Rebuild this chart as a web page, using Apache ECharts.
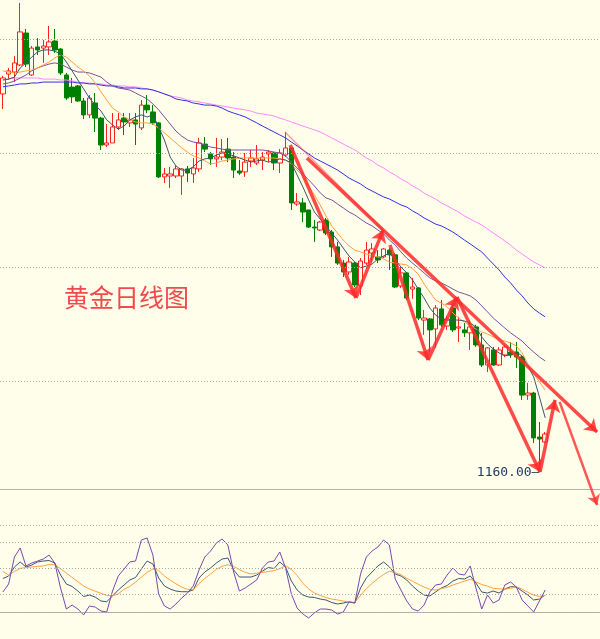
<!DOCTYPE html>
<html><head><meta charset="utf-8">
<script src="https://cdn.jsdelivr.net/npm/echarts@6/dist/echarts.min.js"></script>
<style>html,body{margin:0;padding:0;background:#fffeea;}#c{width:600px;height:639px;}</style>
</head><body><div id="c"></div>
<script>
const categories = Array.from({length:104},(_, i)=>'D'+(i+1));
const opens = [1325.9,1334.6,1335.5,1338.6,1352.6,1334.2,1346.5,1346.0,1346.5,1349.1,
1345.6,1334.2,1328.9,1329.4,1322.8,1316.7,1321.9,1315.3,1303.5,1304.4,
1311.4,1315.3,1313.2,1314.5,1311.0,1321.0,1318.0,1313.2,1289.5,1289.9,
1289.9,1289.9,1293.0,1290.8,1293.0,1303.9,1299.6,1297.4,1298.2,1301.7,
1298.2,1292.1,1291.7,1296.5,1295.6,1296.9,1299.6,1300.0,1295.6,1299.1,
1302.2,1277.6,1278.1,1275.0,1267.5,1266.2,1270.6,1265.3,1258.8,1251.7,
1247.8,1251.7,1241.7,1251.7,1256.1,1254.4,1254.4,1257.4,1255.3,1241.7,
1247.4,1240.3,1240.8,1226.7,1227.2,1222.8,1231.6,1224.1,1232.0,1223.2,
1222.4,1221.1,1223.7,1215.8,1207.0,1213.6,1207.0,1211.4,1212.7,1212.7,
1210.5,1193.8,1194.7,1175.4,1173.2];
const closes = [1332.9,1336.0,1339.5,1353.1,1339.0,1346.0,1345.2,1346.9,1348.7,1345.2,
1335.1,1324.1,1324.6,1322.8,1316.7,1324.1,1315.3,1303.5,1304.4,1311.4,
1314.5,1313.6,1314.5,1312.7,1321.0,1318.9,1313.2,1289.5,1290.8,1290.8,
1293.0,1293.0,1291.2,1293.4,1304.4,1301.7,1297.4,1298.2,1300.4,1297.8,
1292.5,1291.2,1296.0,1297.8,1297.4,1298.2,1300.4,1295.6,1300.0,1302.2,
1278.1,1278.5,1274.1,1267.5,1267.1,1269.7,1264.9,1258.8,1251.7,1247.8,
1252.2,1242.1,1252.6,1257.4,1257.9,1253.1,1257.9,1255.3,1241.2,1247.4,
1236.4,1241.2,1227.6,1227.6,1222.4,1232.0,1224.6,1227.2,1222.4,1223.7,
1221.1,1223.7,1215.8,1207.0,1214.5,1207.0,1213.6,1214.9,1211.4,1210.5,
1193.8,1194.7,1175.0,1174.5,1176.7];
const lows = [1319.3,1332.0,1331.1,1338.1,1337.7,1333.8,1343.0,1339.5,1343.0,1343.9,
1334.2,1323.2,1321.9,1322.4,1314.9,1315.3,1309.2,1301.3,1302.6,1304.4,
1310.1,1307.9,1311.4,1303.5,1310.1,1317.5,1312.3,1289.0,1286.8,1284.6,
1289.0,1281.6,1287.3,1286.8,1291.7,1300.4,1294.7,1293.9,1296.9,1296.0,
1289.0,1290.3,1289.5,1293.9,1294.7,1292.5,1296.0,1292.5,1291.2,1298.2,
1275.0,1276.8,1269.7,1267.1,1261.0,1265.8,1264.0,1254.4,1250.9,1245.6,
1246.5,1241.2,1237.7,1250.9,1252.2,1251.7,1253.9,1248.7,1240.8,1240.8,
1235.5,1236.0,1226.7,1220.2,1212.7,1214.5,1223.7,1222.4,1221.5,1217.1,
1219.3,1213.6,1214.9,1206.1,1203.9,1206.6,1206.6,1210.5,1210.1,1205.7,
1191.7,1191.7,1172.8,1160.0,1172.8];
const highs = [1333.8,1337.3,1342.5,1365.8,1354.4,1346.9,1350.4,1349.6,1355.7,1354.4,
1346.0,1335.1,1332.9,1329.8,1324.1,1325.4,1326.3,1315.8,1312.7,1317.5,
1317.5,1317.5,1317.5,1317.5,1323.2,1325.4,1321.0,1313.6,1293.4,1293.9,
1294.7,1293.4,1294.3,1297.8,1306.6,1307.0,1300.4,1306.6,1306.1,1306.6,
1300.4,1296.9,1300.0,1301.3,1303.5,1300.4,1301.3,1300.4,1301.7,1309.2,
1302.2,1282.4,1280.3,1275.0,1270.6,1270.2,1271.5,1266.2,1261.0,1253.1,
1254.4,1252.2,1253.9,1261.0,1260.5,1257.4,1258.3,1258.3,1256.1,1250.0,
1247.8,1245.2,1241.2,1231.1,1227.6,1233.3,1235.5,1228.5,1233.3,1228.1,
1225.4,1226.7,1224.6,1221.1,1214.9,1214.9,1214.9,1215.8,1217.1,1217.1,
1211.4,1199.1,1195.2,1182.0,1177.6];
const ma5 = [1332.0,1332.4,1333.3,1337.3,1339.5,1342.1,1344.3,1345.2,1345.2,1344.7,
1343.4,1339.9,1336.0,1332.0,1328.1,1324.1,1321.0,1318.4,1314.5,1312.3,
1310.5,1311.8,1314.5,1315.8,1316.7,1315.8,1316.7,1311.4,1305.7,1298.2,
1294.3,1292.5,1292.5,1293.9,1296.5,1297.4,1297.8,1299.1,1300.0,1299.6,
1298.7,1297.8,1296.9,1296.0,1296.5,1296.9,1296.0,1296.5,1297.4,1296.9,
1295.6,1290.3,1285.1,1279.4,1274.1,1271.0,1268.0,1264.9,1261.8,1258.3,
1254.8,1252.2,1249.6,1250.4,1251.3,1253.5,1254.8,1256.1,1253.1,1250.0,
1247.4,1244.3,1240.3,1236.4,1232.0,1228.9,1227.2,1226.7,1226.7,1226.7,
1226.3,1225.4,1223.7,1219.3,1216.2,1214.0,1212.3,1211.0,1211.4,1212.7,
1211.0,1206.6,1201.8,1193.0,1183.8];
const ma10 = [1336.0,1335.5,1335.1,1335.5,1336.0,1336.4,1337.3,1338.6,1339.9,1341.7,
1343.0,1342.1,1339.9,1337.7,1336.0,1333.8,1330.7,1326.8,1323.2,1319.7,
1318.0,1315.8,1314.5,1313.6,1313.2,1313.2,1312.7,1311.0,1308.8,1306.6,
1304.4,1302.2,1300.4,1298.7,1297.8,1296.5,1295.2,1295.6,1296.5,1296.9,
1297.4,1297.8,1297.8,1297.8,1297.8,1297.8,1297.8,1297.8,1297.4,1296.9,
1295.2,1292.5,1289.9,1285.5,1281.6,1277.2,1272.4,1268.0,1264.9,1261.8,
1259.2,1257.4,1256.6,1255.7,1254.8,1254.4,1253.5,1252.2,1251.7,1251.3,
1250.9,1249.1,1246.9,1242.5,1239.0,1235.5,1234.2,1232.5,1229.8,1227.6,
1225.9,1224.1,1222.8,1221.5,1220.6,1219.3,1218.4,1217.5,1216.7,1215.3,
1212.3,1207.5,1203.1,1199.6,1196.0];
const ma20 = [1330.3,1330.7,1331.6,1332.9,1334.2,1336.0,1337.3,1338.2,1339.0,1339.5,
1339.0,1337.7,1336.4,1335.5,1335.5,1335.1,1334.2,1333.3,1331.1,1329.4,
1328.5,1328.1,1327.6,1326.3,1325.0,1323.7,1321.5,1318.9,1315.8,1312.7,
1309.6,1307.4,1305.7,1304.8,1304.4,1303.5,1302.6,1302.2,1301.7,1301.3,
1301.3,1301.3,1301.3,1301.3,1301.3,1301.3,1300.9,1300.4,1300.0,1298.7,
1296.0,1293.4,1290.8,1288.2,1285.5,1282.5,1280.3,1279.4,1277.6,1275.9,
1274.1,1272.8,1271.0,1269.3,1268.0,1266.2,1264.5,1261.8,1259.6,1256.6,
1253.9,1251.7,1249.6,1247.4,1245.2,1243.9,1243.0,1241.7,1240.3,1239.0,
1238.2,1237.3,1235.5,1232.9,1230.3,1227.6,1225.4,1223.2,1221.1,1219.3,
1217.5,1214.9,1212.7,1210.5,1208.8];
const ma60 = [1329.0,1329.4,1329.8,1330.3,1330.3,1330.7,1330.7,1331.1,1331.1,1331.1,
1331.1,1331.1,1331.1,1330.7,1330.7,1330.3,1330.3,1329.8,1329.4,1329.4,
1329.0,1328.5,1328.5,1328.5,1328.1,1328.1,1327.6,1326.8,1325.9,1325.0,
1323.7,1323.2,1322.8,1321.9,1321.5,1321.0,1321.0,1320.6,1319.7,1318.4,
1317.5,1316.7,1315.8,1314.5,1313.2,1311.8,1310.5,1309.2,1307.9,1306.6,
1304.8,1303.1,1301.3,1299.6,1297.8,1296.5,1295.2,1293.9,1292.5,1290.8,
1289.0,1287.7,1286.4,1284.6,1283.3,1282.0,1280.7,1279.8,1278.5,1277.2,
1276.3,1274.6,1273.2,1271.5,1270.2,1268.8,1268.0,1266.7,1265.3,1263.6,
1261.8,1260.1,1258.3,1256.6,1253.9,1251.3,1248.7,1245.6,1243.0,1239.9,
1237.3,1234.2,1231.6,1229.8,1228.1];
const ma120 = [1332.0,1332.4,1332.9,1332.9,1332.9,1332.9,1332.9,1332.4,1332.4,1332.4,
1332.0,1332.0,1331.6,1331.1,1330.7,1330.7,1330.3,1330.3,1329.8,1329.8,
1329.4,1329.4,1329.0,1329.0,1328.5,1328.1,1327.6,1326.8,1325.9,1325.0,
1324.6,1324.1,1323.2,1322.8,1322.4,1321.9,1321.5,1321.0,1320.6,1320.2,
1319.7,1319.3,1318.9,1318.4,1317.5,1317.1,1316.7,1316.2,1315.3,1314.5,
1313.6,1312.7,1311.8,1311.0,1310.1,1309.2,1307.9,1306.6,1305.3,1303.9,
1302.6,1301.3,1299.6,1297.8,1296.5,1294.7,1293.4,1291.7,1290.3,1288.6,
1287.3,1285.5,1284.2,1282.4,1281.1,1279.8,1278.1,1276.8,1275.4,1274.1,
1272.4,1271.0,1269.7,1268.4,1266.7,1264.9,1263.2,1261.4,1259.6,1257.4,
1255.7,1253.9,1252.2,1250.9,1249.6];
const kLine = [38.5,41.4,51.7,57.5,51.7,54.0,57.5,58.6,59.2,56.3,
42.5,32.2,29.3,24.1,17.8,19.5,17.2,12.6,11.8,18.4,
25.3,31.0,36.8,39.7,49.4,58.6,55.2,39.1,29.9,26.4,
24.1,23.3,23.3,25.3,39.1,46.0,50.6,56.3,60.9,62.1,
48.3,40.2,40.2,40.2,42.5,47.1,51.1,50.0,57.5,51.7,
35.6,25.3,19.5,17.2,16.7,14.9,13.8,10.9,9.2,10.3,
11.7,10.3,27.6,39.1,46.0,52.9,57.5,51.7,43.7,41.4,
36.8,29.9,24.1,19.5,18.4,23.0,27.6,30.5,35.6,38.5,
37.9,41.4,33.3,23.0,21.8,24.1,21.8,26.4,29.1,28.7,
24.1,19.5,13.8,14.9,19.5];
const dLine = [46.6,42.5,46.6,50.2,51.0,51.8,52.4,52.9,54.6,54.3,
49.7,44.8,39.7,34.8,29.9,26.4,23.9,21.5,19.1,18.4,
20.8,26.0,29.4,34.4,40.0,45.5,49.4,47.9,41.3,36.6,
32.4,28.6,26.0,25.6,32.6,38.7,43.6,49.1,52.6,54.3,
52.4,48.6,45.6,43.8,44.6,45.5,46.6,47.6,49.8,53.2,
48.9,42.0,33.0,26.4,21.8,19.0,16.7,14.9,13.8,12.6,
11.5,11.1,19.0,26.9,32.8,38.4,43.2,46.9,45.3,42.8,
38.8,35.3,31.9,28.7,26.1,25.1,26.9,28.5,31.0,33.2,
35.4,37.7,34.6,31.6,29.8,27.2,26.7,26.2,27.2,29.0,
26.4,22.6,19.4,17.9,19.0];
const jLine = [23.0,32.2,63.2,73.6,52.9,56.3,58.6,60.9,65.5,56.3,
27.6,3.4,8.0,3.4,-3.4,6.9,5.7,1.1,0,24.1,
41.4,49.4,57.5,58.6,82.8,85.1,65.5,20.7,6.9,3.4,
9.2,16.1,21.8,29.9,48.3,63.2,70.1,79.3,83.9,77.0,
46.0,24.1,27.6,32.2,36.8,50.6,57.5,58.6,69.0,50.6,
20.7,4.6,-2.3,-6.9,-1.1,3.4,3.4,2.3,-2.3,0,
11.5,10.3,43.7,63.2,70.1,74.7,82.8,77.0,37.9,25.3,
12.6,3.4,1.1,8.0,23.0,31.0,32.2,42.5,50.6,43.7,
42.5,52.9,27.6,3.4,19.5,10.3,13.8,31.0,34.5,28.7,
13.8,6.9,0,12.6,25.3];
const priceGridLevels = [1200,1250,1300,1350];
const kdjGridLevels = [100,80,50,20,0];
const lowLabel = {index:93, price:1160, text:'1160.00'};
const title = '黄金日线图';
// analyst annotation arrows: [[x index, price] start, [x index, price] end]
const thickArrows = [
  [[49.8,1303.5],[61.2,1236.4]],
  [[61.2,1236.4],[65.9,1266.2]],
  [[67.1,1259.6],[73.7,1209.2]],
  [[73.7,1209.2],[78.7,1236.8]],
  [[78.7,1236.8],[93.1,1160.1]],
  [[93.1,1160.1],[95.7,1191.7]],
  [[52.7,1297.8],[103.0,1177.6]]
];
const thinArrows = [
  [[96.5,1190.8],[103.0,1145.6]]
];
const paleLines = [
  [[48.9,1309.2],[65.9,1266.2]]
];

const BG = '#fffeea';
const chart = echarts.init(document.getElementById('c'));
const dotted = {type:[1,2], color:'#a8a8a0', width:1};
const option = {
  animation:false,
  backgroundColor:BG,
  grid:[{left:0,right:0,top:0,height:489},{left:0,right:0,top:489,height:137}],
  xAxis:[
    {type:'category',gridIndex:0,data:categories,show:false},
    {type:'category',gridIndex:1,data:categories,position:'bottom',axisLine:{show:true,lineStyle:{color:'#b4b4ac'}},axisTick:{show:false},axisLabel:{show:false},splitLine:{show:false}},
    {type:'value',gridIndex:0,min:-0.5,max:103.5,show:false},
    {type:'category',gridIndex:1,data:categories,position:'top',axisLine:{show:true,lineStyle:{color:'#b4b4ac'}},axisTick:{show:false},axisLabel:{show:false},splitLine:{show:false}}
  ],
  yAxis:[
    {type:'value',gridIndex:0,min:1152.6,max:1367.1,show:false,splitLine:{show:false}},
    {type:'value',gridIndex:1,min:-16.1,max:141.4,show:false,splitLine:{show:false}}
  ],
  graphic:[{type:'text',left:64,top:285,style:{text:title,fill:'#f04a4a',font:'25px "Noto Sans CJK SC"'}}],
  series:[
    {type:'candlestick',xAxisIndex:0,yAxisIndex:0,barWidth:5,clip:false,
     data:opens.map((o,i)=>[o,closes[i],lows[i],highs[i]]),
     itemStyle:{color:BG,color0:'#008000',borderColor:'#ff2020',borderColor0:'#008000',borderWidth:1},
     markLine:{silent:true,symbol:'none',label:{show:false},lineStyle:dotted,data:priceGridLevels.map(v=>({yAxis:v}))},
     markPoint:{silent:true,data:[{coord:[categories[lowLabel.index],lowLabel.price],symbolSize:0,
        label:{show:true,position:'left',distance:0,formatter:lowLabel.text+'\u2014',color:'#1f3c64',fontSize:13,fontFamily:'DejaVu Sans Mono'}}]}
    },
    {type:'line',name:'MA120',data:ma120,xAxisIndex:0,yAxisIndex:0,showSymbol:false,lineStyle:{color:'#ff88ff',width:1},clip:false},
    {type:'line',name:'MA60',data:ma60,xAxisIndex:0,yAxisIndex:0,showSymbol:false,lineStyle:{color:'#3030e8',width:1},clip:false},
    {type:'line',name:'MA20',data:ma20,xAxisIndex:0,yAxisIndex:0,showSymbol:false,lineStyle:{color:'#7a50a0',width:1},clip:false},
    {type:'line',name:'MA10',data:ma10,xAxisIndex:0,yAxisIndex:0,showSymbol:false,lineStyle:{color:'#ffa040',width:1},clip:false},
    {type:'line',name:'MA5',data:ma5,xAxisIndex:0,yAxisIndex:0,showSymbol:false,lineStyle:{color:'#3a5670',width:1},clip:false},
    {type:'lines',coordinateSystem:'cartesian2d',xAxisIndex:2,yAxisIndex:0,clip:false,z:9,
     symbol:['none','none'],
     lineStyle:{color:'#ff5050',width:1.5,opacity:0.55},
     data:paleLines.map(a=>({coords:a}))},
    {type:'lines',coordinateSystem:'cartesian2d',xAxisIndex:2,yAxisIndex:0,clip:false,z:10,
     symbol:['none','arrow'],symbolSize:12,
     lineStyle:{color:'#ff2a2a',width:3.5,opacity:0.85},
     data:thickArrows.map(a=>({coords:a}))},
    {type:'lines',coordinateSystem:'cartesian2d',xAxisIndex:2,yAxisIndex:0,clip:false,z:10,
     symbol:['none','arrow'],symbolSize:10,
     lineStyle:{color:'#ff3030',width:2.5,opacity:0.8},
     data:thinArrows.map(a=>({coords:a}))},
    {type:'line',name:'K',data:kLine,xAxisIndex:1,yAxisIndex:1,showSymbol:false,lineStyle:{color:'#3a5670',width:1},
     markLine:{silent:true,symbol:'none',label:{show:false},lineStyle:dotted,data:kdjGridLevels.map(v=>({yAxis:v}))}},
    {type:'line',name:'D',data:dLine,xAxisIndex:1,yAxisIndex:1,showSymbol:false,lineStyle:{color:'#ffa040',width:1}},
    {type:'line',name:'J',data:jLine,xAxisIndex:1,yAxisIndex:1,showSymbol:false,lineStyle:{color:'#7a48b0',width:1}}
  ]
};
chart.setOption(option);
</script></body></html>
